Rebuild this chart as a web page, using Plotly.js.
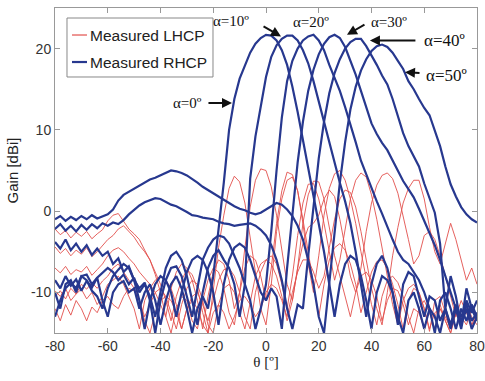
<!DOCTYPE html>
<html>
<head>
<meta charset="utf-8">
<script src="https://cdn.plot.ly/plotly-3.0.1.min.js"></script>
<style>html,body{margin:0;padding:0;background:#fff;}#chart{width:485px;height:381px;}</style>
</head>
<body>
<div id="chart"></div>
<script>
// θ grid (degrees)
var theta = [-80,-78,-76,-74,-72,-70,-68,-66,-64,-62,
             -60,-58,-56,-54,-52,-50,-48,-46,-44,-42,
             -40,-38,-36,-34,-32,-30,-28,-26,-24,-22,
             -20,-18,-16,-14,-12,-10,-8,-6,-4,-2,
             0,2,4,6,8,10,12,14,16,18,
             20,22,24,26,28,30,32,34,36,38,
             40,42,44,46,48,50,52,54,56,58,
             60,62,64,66,68,70,72,74,76,78,
             80];

// Measured RHCP gain (dBi), alpha = 0..50 deg
var rhcp0 = [-10,-12,-9,-8.5,-10,-8,-7.8,-9,-8.2,-11,
             -13,-10,-9,-8.6,-10,-9.5,-12,-10,-9,-11,
             -14,-11,-9,-8,-9.5,-12,-15,-12,-10.5,-12,
             -8,-2.5,3.5,10,13.8,16.3,18,19.5,20.6,21.3,
             21.7,21.6,21,19.8,18,15.3,12.2,8.7,5.5,2,
             -1.5,-5,-9,-13,-9,-6.5,-5.5,-6,-8,-11,
             -14.5,-10,-8,-8.5,-10,-13,-15,-11,-10,-12,
             -14.5,-12,-13,-15,-12,-14,-11.5,-14,-12,-14.5,
             -13];
var rhcp10 = [-8.5,-9.5,-8,-9.2,-8.4,-9.8,-8.6,-9.4,-8.2,-7.6,
              -7,-7.5,-8.5,-7.8,-9,-8.2,-10,-9,-10.5,-13,
              -10,-7,-5.5,-5,-6,-8,-11,-14,-10,-7,
              -5.5,-4.8,-6,-7,-9,-13,-9,4,9.2,13,
              16.5,19,20.4,21.2,21.6,21.6,21,19.8,18.2,16,
              13.5,10.8,8.2,5.8,3.5,1.2,-1.5,-5,-9,-13,
              -9,-6.5,-5.5,-7,-10,-14,-9,-7.5,-8,-10.5,
              -13,-10.5,-11,-13.5,-12,-14.5,-12,-13,-11.5,-13.5,
              -12.5];
var rhcp20 = [-3.8,-4.6,-3.5,-4.8,-4,-5,-4.2,-5.4,-4.6,-5.5,
              -5,-6.5,-5.8,-7.5,-6.8,-8.5,-9.5,-8.8,-11,-15,
              -11,-8.5,-7,-6.8,-8,-10.5,-13,-9.5,-6,-4.5,
              -3.5,-3,-3.2,-4,-5.5,-7,-9,-11,-14.5,-12,
              -9,-2.5,5,11.5,16,18.5,20,21,21.5,21.7,
              21,19.8,18,16.5,14.8,12.8,10.8,8.5,6.2,4.5,
              3,1.2,-0.3,-2,-3.5,-5,-6,-6.5,-7.5,-8.5,
              -10,-12,-15,-11,-10,-12,-14.5,-12,-13.5,-11.5,
              -13];
var rhcp30 = [-13,-11,-9.5,-8.8,-9.5,-8,-8.5,-9.8,-10.5,-12,
              -9.5,-8,-7.2,-6.5,-7,-8.5,-11,-14.5,-11,-9,
              -8,-8.5,-10,-13,-10,-7.5,-6,-5.5,-6,-7.5,
              -10,-14,-9,-6,-4.5,-4,-4.5,-6,-8,-10,
              -11,-9.5,-10.5,-14.5,-7,0,6,11,14.8,17.4,
              19.3,20.6,21.4,21.7,21.3,20.2,18.6,16.8,14.8,12.7,
              10.8,9.5,8.4,7.5,6.2,4.9,3.7,2.7,1.7,0.3,
              -1.2,-2.8,-4.2,-6,-8,-10,-12,-14.5,-11,-12.5,
              -11];
var rhcp40 = [-2.2,-1.6,-2.4,-1.8,-2.5,-1.7,-2.3,-1.6,-2.1,-1.5,
              -1.8,-1.4,-1.6,-1.1,-0.4,0.2,0.7,1.1,1.4,1.6,
              1.5,1.1,0.8,0.6,0.3,-0.1,-0.5,-0.6,-0.8,-0.9,
              -1,-1.3,-1.5,-1.6,-1.8,-1.7,-1.6,-1.5,-1.8,-2.3,
              -3,-4.2,-6,-8.5,-12,-14.5,-11.5,-12,-5.5,0.8,
              6.5,11,14.5,17,18.7,20,20.8,21.2,21.2,20.3,
              19.2,18,16.7,15.6,13.8,11.6,9.6,8,6.8,5.5,
              3.4,1.5,-0.2,-4,-12,-8,-10.5,-14,-9.5,-12,
              -13.5];
var rhcp50 = [-1,-0.6,-1.2,-0.7,-1.1,-0.6,-1,-0.5,-0.9,-0.6,
              -0.4,0.2,1.3,2,2.4,2.8,3.2,3.6,3.9,4.1,
              4.4,4.7,5,4.9,4.7,4.4,4,3.5,3,2.6,
              2.1,1.7,1.3,1,0.6,0.3,0.1,-0.2,-0.4,-0.2,
              0.2,0.7,1,0.8,0.2,-0.6,-1.8,-3.5,-6,-9,
              -13,-15,-9,-2.5,3.5,8.5,12.5,15.3,17.3,18.7,
              19.7,20.3,20.5,20.2,19.5,18.5,17.5,16,15,13.8,
              12.7,11.8,10,8,5.5,3.3,1.8,0.5,-0.4,-1,
              -1.4];

// Measured LHCP gain (dBi), alpha = 0..50 deg
var lhcp0 = [-2.2,-2.9,-2.4,-3.3,-2.6,-3.1,-2.5,-3.4,-2.8,-2.3,
             -1.2,-0.5,-0.3,-1.2,-2.2,-2.8,-3.5,-4.8,-6,-7.5,
             -9,-11,-13.5,-10.5,-8.5,-7.2,-7.8,-9.5,-12.5,-15,
             -9.5,-4.5,-0.5,2.8,4.3,3.6,1,-3,-7.5,-12,
             -14,-9,-2.5,1.5,3.8,4.2,2.5,-1,-5,-9,
             -13,-9,-6,-4.5,-4,-4.8,-6.5,-9,-12.5,-10,
             -7.5,-6.2,-6,-7,-9,-11.5,-14.5,-11,-9.5,-10,
             -12,-14.8,-11,-10.5,-12.5,-14.5,-12,-13.5,-11.5,-13,
             -14];
var lhcp10 = [-4.4,-5.2,-4.6,-5.5,-4.8,-5.3,-4.5,-5.6,-5,-4.2,
              -3.5,-3,-2.2,-1.8,-2.5,-3.2,-4.2,-5,-6,-7.8,
              -10,-13,-9.5,-7.5,-6.5,-7,-8.5,-11,-14.5,-10.5,
              -7.5,-6,-6.5,-8.5,-12,-10,-4.5,0.5,3.8,5.2,
              5,3,-0.5,-4.5,-9,-11,-7,-1.5,2,3.7,
              3.6,1.5,-2,-5.5,-8,-10.5,-13,-10,-8,-7.5,
              -8.5,-10.5,-13.5,-11,-9.5,-9.8,-11.5,-14,-12,-12.5,
              -14.5,-12,-13,-11.5,-13.5,-15,-12.5,-13,-14,-12,
              -13];
var lhcp20 = [-7,-7.6,-6.8,-7.8,-7.2,-7.5,-6.8,-7.9,-7.2,-6.5,
              -5.5,-4.8,-4.5,-5,-5.8,-6.5,-7.5,-8.2,-9,-10,
              -11.5,-13,-15,-12,-10.5,-11,-13.5,-14.5,-11,-8.5,
              -7,-7.5,-9.5,-12.5,-14,-10,-7,-5.5,-6,-8,
              -11,-7,-1.5,2.5,4.8,4.5,2.5,-1.5,-6.5,-10,
              -5.5,-0.5,2.8,4.6,5,3.8,1.5,-1.5,-5,-8.5,
              -11.5,-14,-10.5,-8.5,-8,-8.8,-10.5,-13,-15,-12,
              -11,-12.5,-14.5,-12,-13,-14.5,-12.5,-13.5,-12,-14,
              -13];
var lhcp30 = [-9.8,-10.5,-9.5,-11,-10.2,-9.6,-10.8,-10,-11.5,-10.5,
              -9,-8.5,-8,-9,-10.5,-12,-14.5,-11,-9.5,-8.5,
              -8,-8.5,-9.5,-11.5,-14.5,-12,-10.5,-10,-11.5,-13.5,
              -11,-8.5,-7.2,-7,-8,-10,-13,-14.5,-10,-7.5,
              -6,-5.5,-6.5,-9,-12,-8,-3,1,3.3,3.4,
              1.5,-1.5,-5,-8.5,-6,-2,1.5,3.8,4.7,4.2,
              2,-1,-4.5,-8,-11.5,-14,-11,-9.5,-9,-10,
              -12,-14.5,-12.5,-12,-13.5,-15,-12.5,-13.5,-12,-14.5,
              -13];
var lhcp40 = [-12,-13.5,-11.5,-12.8,-11,-12,-13.5,-11.8,-12.5,-11,
              -10.5,-11.5,-12,-10.5,-9.5,-9.8,-11,-13,-11.5,-10,
              -9.5,-10.5,-12.5,-14.5,-11.5,-9.5,-8.5,-9,-11,-14,
              -15,-11.5,-9.5,-9,-10,-12.5,-14.5,-11,-8,-6.5,
              -6,-6.5,-8,-10.5,-13.5,-11,-7,-4,-2,-1.5,
              -0.5,1.5,2.6,1.8,-1,-4.5,-8,-10,-7,-2.5,
              1,3.2,4.4,4.7,4,2.2,-0.5,-3.5,-6.5,-5.5,
              -3,-2.5,-3.5,-5.5,-8,-10.5,-13,-11,-12.5,-14,
              -12.5];
var lhcp50 = [-10.5,-9.8,-10.8,-9.5,-10.2,-9,-9.6,-8.8,-9.5,-8.6,
              -8,-7,-6.5,-7.5,-8.5,-9.5,-11,-13.5,-15,-12.5,
              -11,-10.5,-11,-12.5,-14.5,-12,-11,-12,-14,-15,
              -12.5,-11.5,-12.5,-14.5,-13,-11,-10.5,-11.5,-13,-12,
              -10,-9,-9.5,-11,-13,-10,-7.5,-6,-6,-7.5,
              -9.5,-8,-4.5,-1,1.5,2.6,2.3,0.5,-2.5,-6,
              -9.5,-12,-14,-10,-5.5,-2,1,2.8,3.8,3.8,
              1.5,-2,-5,-6.5,-4,-1.5,-3.5,-6,-8.5,-7,
              -9];

var xTickVals = [-80,-60,-40,-20,0,20,40,60,80];
var xTickText = ['-80','-60','-40','-20','0','20','40','60','80'];
var yTickVals = [-10,0,10,20];
var yTickText = ['-10','0','10','20'];
var legendLabels = ['Measured LHCP','Measured RHCP'];
var alphaLabels = ['α=0º','α=10º','α=20º','α=30º','α=40º','α=50º'];

var RED = '#e2504d', BLUE = '#27388f';
var lhcpSets = [lhcp0,lhcp10,lhcp20,lhcp30,lhcp40,lhcp50];
var rhcpSets = [rhcp0,rhcp10,rhcp20,rhcp30,rhcp40,rhcp50];
var traces = [];
lhcpSets.forEach(function(s,i){
  traces.push({x: theta, y: s, type:'scatter', mode:'lines', name: legendLabels[0],
    showlegend:false, line:{color:RED, width:1}, opacity:0.9});
});
rhcpSets.forEach(function(s,i){
  traces.push({x: theta, y: s, type:'scatter', mode:'lines', name: legendLabels[1],
    showlegend:false, line:{color:BLUE, width:2.2}});
});

var serif = 'Liberation Serif, DejaVu Serif, serif';
var sans = 'Liberation Sans, Arial, sans-serif';
function lbl(text, x, y, size){
  return {x:x, y:y, xref:'x', yref:'y', text:text, showarrow:false,
          font:{family:serif, size:size, color:'#111'}};
}
function arr(x, y, ax, ay){
  return {x:x, y:y, xref:'x', yref:'y', text:'', showarrow:true, ax:ax, ay:ay,
          arrowhead:2, arrowsize:1, arrowwidth:2, arrowcolor:'#111'};
}
var annotations = [
  lbl(alphaLabels[0], -29.6, 13.3, 15),
  arr(-12.9, 13.3, -25, 0),
  lbl(alphaLabels[1], -13.3, 23.4, 15),
  arr(5.7, 21.5, -19, -11),
  lbl(alphaLabels[2], 17.1, 23.3, 15),
  lbl(alphaLabels[3], 46.6, 23.3, 15),
  arr(30.7, 21.7, 19, -11),
  lbl(alphaLabels[4], 67.5, 21.0, 17),
  arr(39.4, 21.0, 47, 0),
  lbl(alphaLabels[5], 68.6, 16.7, 17),
  arr(52.7, 17.1, 16, 1),
  // custom legend text
  {xref:'paper', yref:'paper', x:0.078, y:0.9169, xanchor:'left', yanchor:'middle',
   text:legendLabels[0], showarrow:false, font:{family:sans, size:15.5, color:'#222'}},
  {xref:'paper', yref:'paper', x:0.078, y:0.8338, xanchor:'left', yanchor:'middle',
   text:legendLabels[1], showarrow:false, font:{family:sans, size:15.5, color:'#222'}}
];
var shapes = [
  {type:'rect', xref:'paper', yref:'paper', x0:0.0284, x1:0.3744, y0:0.7877, y1:0.9692,
   line:{color:'#888', width:1}, fillcolor:'#fff', layer:'above'},
  {type:'line', xref:'paper', yref:'paper', x0:0.0403, x1:0.0758, y0:0.9169, y1:0.9169,
   line:{color:RED, width:1.2}},
  {type:'line', xref:'paper', yref:'paper', x0:0.0403, x1:0.0758, y0:0.8338, y1:0.8338,
   line:{color:BLUE, width:2.2}}
];

var layout = {
  width:485, height:381,
  margin:{l:55, r:8, t:8, b:48},
  paper_bgcolor:'#fff', plot_bgcolor:'#fff',
  showlegend:false,
  xaxis:{range:[-80,80], tickvals:xTickVals, ticktext:xTickText, ticks:'inside', ticklen:5,
         tickcolor:'#999', showline:true, linecolor:'#999', linewidth:1, mirror:'ticks',
         showgrid:false, zeroline:false, tickfont:{family:sans, size:14, color:'#333'},
         title:{text:'θ [º]', font:{family:serif, size:15, color:'#222'}, standoff:2}},
  yaxis:{range:[-15,25], tickvals:yTickVals, ticktext:yTickText, ticks:'inside', ticklen:5,
         tickcolor:'#999', showline:true, linecolor:'#999', linewidth:1, mirror:'ticks',
         showgrid:false, zeroline:false, tickfont:{family:sans, size:14, color:'#333'},
         title:{text:'Gain [dBi]', font:{family:sans, size:15, color:'#222'}, standoff:8}},
  annotations:annotations,
  shapes:shapes
};
Plotly.newPlot('chart', traces, layout, {staticPlot:true, displayModeBar:false});
</script>
</body>
</html>
